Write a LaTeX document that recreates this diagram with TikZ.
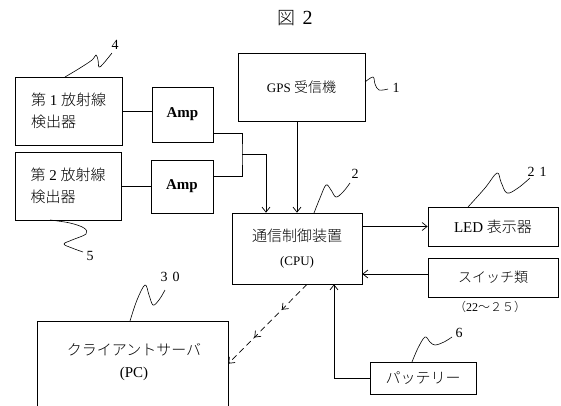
\documentclass[tikz,border=0pt]{standalone}
\usepackage{fontspec}
\setmainfont{Liberation Serif}
\newfontfamily\cjk{Noto Sans CJK JP}[UprightFont={* Light}]
\newcommand\jtxt[1]{{\cjk #1}}
\usetikzlibrary{arrows.meta,decorations.markings}
\begin{document}
\begin{tikzpicture}[x=1pt,y=-1pt,
  box/.style={draw, line width=0.7pt, inner sep=0pt, anchor=center},
  wire/.style={line width=0.7pt},
  tipb/.tip={Straight Barb[length=5pt,width=8pt,line width=0.7pt]},
  arr/.style={wire, -tipb},
  squig/.style={line width=0.6pt},
  lbl/.style={inner sep=0pt, font=\fontsize{14}{14}\selectfont}]
\clip (0,0) rectangle (561,405);
\fill[white] (0,0) rectangle (561,405);

% title
\node[inner sep=0pt] (title) at (295,18) {\fontsize{18}{18}\selectfont\jtxt{図}\hspace{7pt}{\fontsize{20}{20}\selectfont 2}};

% boxes
\node[box, minimum width=127pt, minimum height=68pt] (gps) at (301.5,87)
  {\fontsize{13}{13}\selectfont GPS {\cjk\fontsize{14}{14}\selectfont 受信機}};
\node[box, minimum width=107pt, minimum height=68pt, align=left,
  font=\fontsize{15}{22}\selectfont] (det1) at (68.5,111)
  {\jtxt{第} 1 \jtxt{放射線}\\\jtxt{検出器}};
\node[box, minimum width=106pt, minimum height=68pt, align=left,
  font=\fontsize{15}{22}\selectfont] (det2) at (68,186)
  {\jtxt{第} 2 \jtxt{放射線}\\\jtxt{検出器}};
\node[box, minimum width=61pt, minimum height=55pt,
  font=\bfseries\fontsize{15}{15}\selectfont] (amp1) at (182.5,114.5) {Amp};
\node[box, minimum width=62pt, minimum height=53pt,
  font=\bfseries\fontsize{15}{15}\selectfont] (amp2) at (182,186.5) {Amp};
\node[box, minimum width=130pt, minimum height=71pt, align=center,
  font=\fontsize{15}{24}\selectfont] (cpu) at (297,248.5)
  {\jtxt{通信制御装置}\\{\fontsize{13}{24}\selectfont (CPU)}};
\node[box, minimum width=130pt, minimum height=39pt,
  font=\fontsize{15}{15}\selectfont] (led) at (493,226.5) {LED \jtxt{表示器}};
\node[box, minimum width=130pt, minimum height=39pt,
  font=\fontsize{14}{14}\selectfont] (sw) at (493,277.5) {\jtxt{スイッチ類}};
\node[inner sep=0pt, font=\fontsize{12}{12}\selectfont] (swl) at (490,307)
  {\jtxt{（}22\jtxt{～２５）}};
\node[box, minimum width=106pt, minimum height=32pt,
  font=\fontsize{15}{15}\selectfont] (bat) at (423,378) {\jtxt{パッテリー}};
\node[box, minimum width=191pt, minimum height=104pt] (pc) at (132.5,373) {};
\node[inner sep=0pt, align=center, font=\fontsize{15}{22}\selectfont] (pct) at (134,362)
  {\jtxt{クライアントサーバ}\\(PC)};

% reference numbers
\node[lbl] (n4) at (115,45) {4};
\node[lbl] (n5) at (90,256) {5};
\node[lbl] (n1) at (396,88) {1};
\node[lbl] (n2) at (355,174) {2};
\node[lbl] (n21) at (537,172) {2\hspace{5pt}1};
\node[lbl] (n30) at (170,277) {3\hspace{5pt}0};
\node[lbl] (n6) at (459,333) {6};

% connectors
\coordinate (j) at (242,154);
\draw[wire] (det1.east) -- (det1.east -| amp1.west);
\draw[wire] (det2.east) -- (det2.east -| amp2.west);
\draw[wire] ([yshift=-18.5pt]amp1.east) -| (j) |- ([yshift=10.5pt]amp2.east);
\draw[arr] (j) -| ([xshift=-31pt]cpu.north);
\draw[arr] ([xshift=-4.5pt]gps.south) -- ([xshift=-4.5pt]gps.south |- cpu.north);
\draw[arr] (cpu.east |- led.west) -- (led.west);
\draw[arr] ([yshift=3.5pt]sw.west) -- ([yshift=3.5pt]sw.west -| cpu.east);
\draw[arr] (bat.west) -| ([xshift=37pt]cpu.south);
\coordinate (pcin) at ([yshift=-43pt]pc.north east);
\draw[arr, dash pattern=on 6pt off 4pt,
  decoration={markings,
    mark=at position 0.32 with {\arrow{tipb}},
    mark=at position 0.67 with {\arrow{tipb}}},
  postaction={decorate}] ([xshift=10pt]cpu.south) -- (pcin);

% leader squiggles
\draw[squig] plot[smooth, tension=0.6] coordinates
  {(65,77) (80,68) (92,60) (96,55) (98,60) (99,67) (103,64) (112,53)};
\draw[squig] plot[smooth, tension=0.6] coordinates
  {(50,220) (70,223) (84,228) (86,234) (72,240) (64,244) (72,248) (83,252)};
\draw[squig] plot[smooth, tension=0.6] coordinates
  {(365,82) (373,77) (375,84) (379,90) (388,89)};
\draw[squig] plot[smooth, tension=0.6] coordinates
  {(314,213) (320,198) (326,185) (331,190) (336,197) (343,192) (350,183)};
\draw[squig] plot[smooth, tension=0.6] coordinates
  {(468,207) (485,188) (497,173) (501,182) (507,193) (518,188) (530,178)};
\draw[squig] plot[smooth, tension=0.6] coordinates
  {(130,321) (137,300) (145,285) (149,295) (153,305) (159,300) (165,290)};
\draw[squig] plot[smooth, tension=0.6] coordinates
  {(412,362) (418,348) (425,337) (430,342) (435,345) (444,342) (452,337)};
\end{tikzpicture}
\end{document}
